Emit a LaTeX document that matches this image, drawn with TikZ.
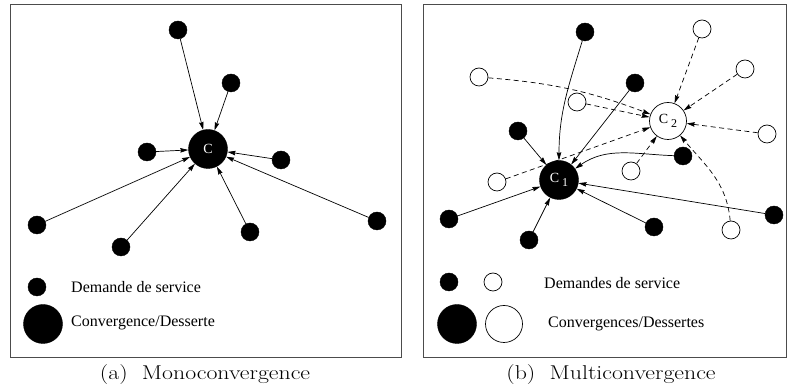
\documentclass[tikz,border=0pt]{standalone}
\usepackage{fontspec}
\newfontfamily\tms{Liberation Serif}
\usetikzlibrary{arrows.meta}
\begin{document}
\begin{tikzpicture}[x=1pt,y=1pt,
  sd/.style={circle,fill=black,draw=black,minimum size=18pt,inner sep=0pt},
  wd/.style={circle,fill=white,draw=black,line width=0.7pt,minimum size=18pt,inner sep=0pt},
  bc/.style={circle,fill=black,draw=black,minimum size=39pt,inner sep=0pt,text=white,font=\tms\fontsize{14}{14}\selectfont},
  wc/.style={circle,fill=white,draw=black,line width=0.7pt,minimum size=37pt,inner sep=0pt,font=\tms\fontsize{14}{14}\selectfont},
  arr/.style={line width=0.7pt,-{Stealth[length=8pt,width=4.5pt,inset=0.8pt]}},
  darr/.style={arr,dash pattern=on 5pt off 3.5pt},
  frame/.style={draw=black!70,line width=1pt},
  leg/.style={anchor=west,font=\tms\fontsize{16}{16}\selectfont,inner sep=0pt},
  captxt/.style={anchor=base,inner sep=0pt,font=\fontsize{20}{20}\selectfont}]
\useasboundingbox (0,0) rectangle (787,390);
% ---------- (a) ----------
\draw[frame] (10,32) rectangle (401,385);
\node[bc] (C) at (208,241) {C};
\node[sd] (a1) at (178,360) {};
\node[sd] (a2) at (231,307) {};
\node[sd] (a3) at (147,238) {};
\node[sd] (a4) at (281,230) {};
\node[sd] (a5) at (37,165) {};
\node[sd] (a6) at (121,143) {};
\node[sd] (a7) at (250,158) {};
\node[sd] (a8) at (377,169) {};
\foreach \n in {a1,a2,a3,a4,a5,a6,a7,a8} \draw[arr] (\n) -- (C);
\node[sd] (la1) at (37,103) {};
\node[bc] (la2) at (43,66) {};
\node[leg] (ta1) at (71,103) {Demande de service};
\node[leg] (ta2) at (71,67) {Convergence/Desserte};
\node[captxt] (capa) at (205,10) {\scalebox{1.19}[1]{(a)\hspace{0.6em}Monoconvergence}};
% ---------- (b) ----------
\draw[frame] (423,32) rectangle (786,385);
\node[bc] (C1) at (559,210) {C\hspace{3pt}\raisebox{-4pt}{\fontsize{12}{12}\selectfont 1}};
\node[wc] (C2) at (668,269) {C\hspace{3pt}\raisebox{-4pt}{\fontsize{12}{12}\selectfont 2}};
\node[sd] (b1) at (585,358) {};
\node[sd] (b2) at (635,307) {};
\node[sd] (b3) at (518,259) {};
\node[sd] (b4) at (683,234) {};
\node[sd] (b5) at (449,171) {};
\node[sd] (b6) at (774,175) {};
\node[sd] (b7) at (654,163) {};
\node[sd] (b8) at (529,150) {};
\node[wd] (w1) at (702,361) {};
\node[wd] (w2) at (745,321) {};
\node[wd] (w3) at (479,313) {};
\node[wd] (w4) at (577,288) {};
\node[wd] (w5) at (767,256) {};
\node[wd] (w6) at (631,219) {};
\node[wd] (w7) at (497,208) {};
\node[wd] (w8) at (731,160) {};
% solid arrows to C1
\draw[arr] (b1) to[out=253,in=90] (C1);
\draw[arr] (b4) to[out=178,in=35] (C1);
\foreach \n in {b2,b3,b5,b6,b7,b8} \draw[arr] (\n) -- (C1);
% dashed arrows to C2
\draw[darr] (w3) to[bend left=8] (C2);
\draw[darr] (w8) to[out=95,in=-50] (C2);
\foreach \n in {w1,w2,w4,w5,w6,w7} \draw[darr] (\n) -- (C2);
% legend
\node[sd] (lb1) at (449,108) {};
\node[wd] (lw1) at (493,108) {};
\node[bc] (lb2) at (457,66) {};
\node[wc] (lw2) at (504,66) {};
\node[leg] (tb1) at (544,107) {Demandes de service};
\node[leg] (tb2) at (548,66) {Convergences/Dessertes};
\node[captxt] (capb) at (611,10) {\scalebox{1.19}[1]{(b)\hspace{0.6em}Multiconvergence}};
\end{tikzpicture}
\end{document}
